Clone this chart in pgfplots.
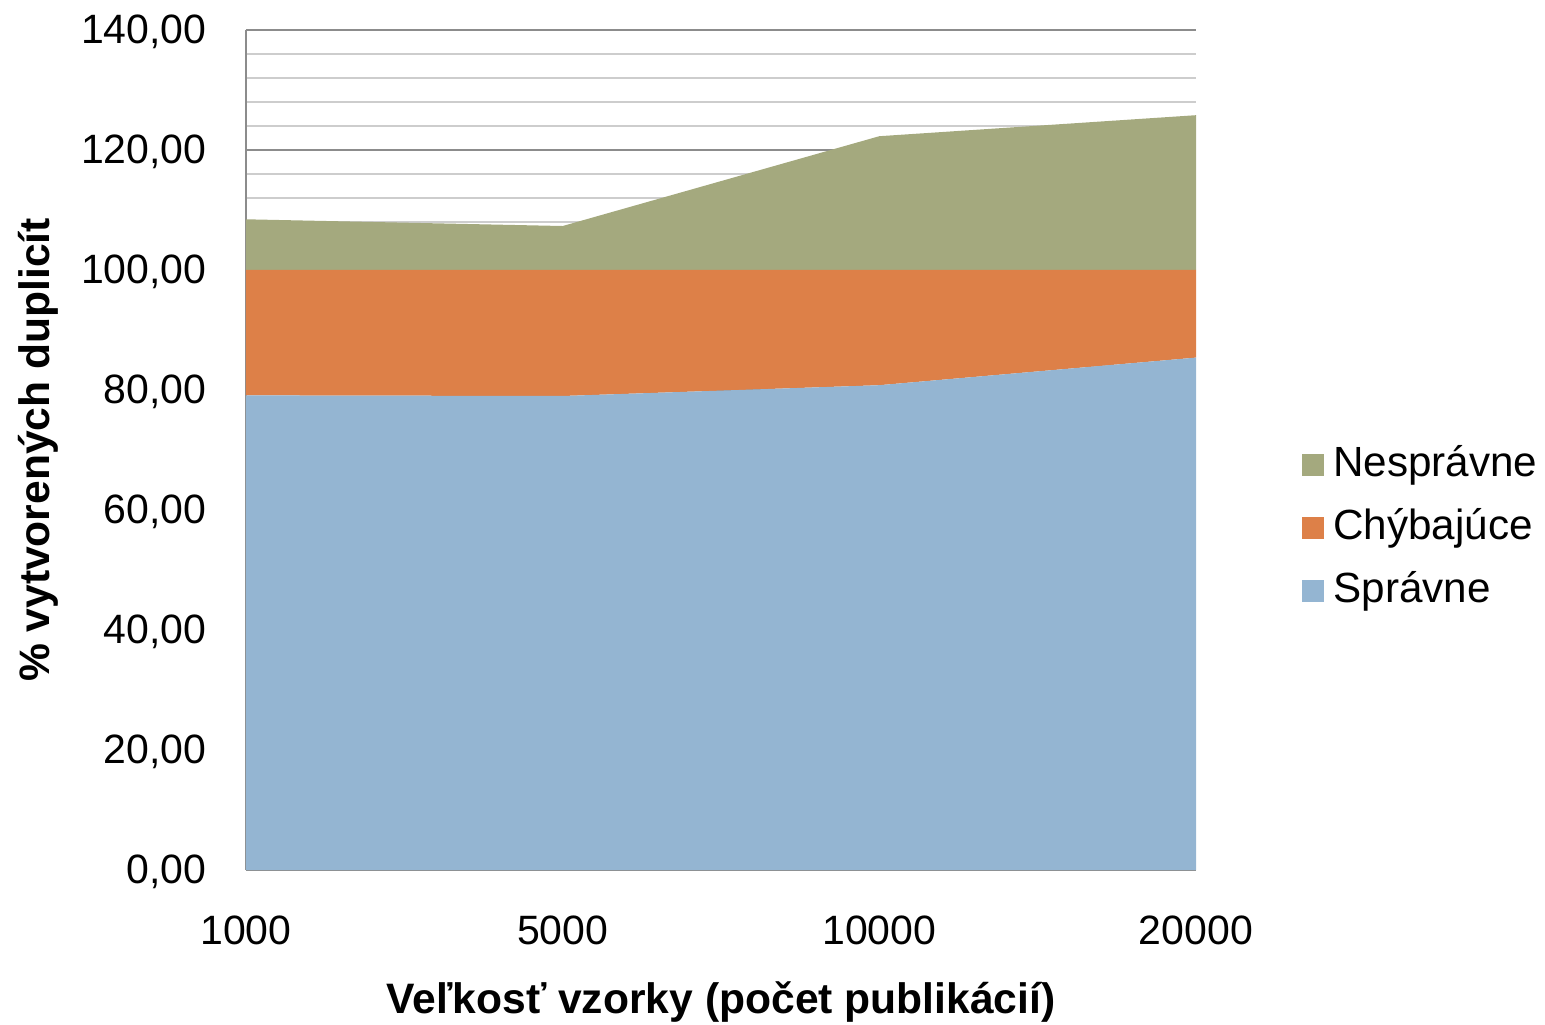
\documentclass[border=0pt]{standalone}
\usepackage{fontspec}
\setmainfont{Liberation Sans}
\usepackage{pgfplots}
\pgfplotsset{compat=1.18}
\definecolor{cgreen}{RGB}{164,169,126}
\definecolor{corange}{RGB}{221,128,72}
\definecolor{cblue}{RGB}{148,181,210}
\definecolor{gmajor}{RGB}{140,140,140}
\definecolor{gminor}{RGB}{205,205,205}
\begin{document}
\begin{tikzpicture}
\begin{axis}[
  scale only axis,
  width=475bp, height=420bp,
  xmin=0, xmax=3, ymin=0, ymax=140,
  xtick={0,1,2,3}, xticklabels={1000,5000,10000,20000},
  ytick={0,20,...,140},
  minor y tick num=4,
  ymajorgrids, yminorgrids,
  major grid style={draw=gmajor, line width=1bp},
  minor grid style={draw=gminor, line width=1bp},
  major tick length=0pt, minor tick length=0pt,
  axis x line=bottom, axis y line=left,
  axis line style={draw=gmajor, line width=1.3bp, -},
  stack plots=y,
  font=\fontsize{20.5bp}{24bp}\selectfont,
  /pgf/number format/.cd, fixed, fixed zerofill, precision=2, use comma, assume math mode=true,
  /pgfplots/.cd,
  yticklabel style={inner sep=0pt, anchor=east, xshift=-19.5bp, yshift=-1bp},
  xticklabel style={inner sep=0pt, anchor=north, yshift=-22.5bp},
  ylabel={\fontsize{21.3bp}{24bp}\selectfont\bfseries \% vytvorených duplicít},
  ylabel style={at={(axis description cs:-0.219,0.5)}, anchor=center, rotate=0},
  xlabel={\fontsize{21.3bp}{24bp}\selectfont\bfseries Veľkosť vzorky (počet publikácií)},
  xlabel style={at={(axis description cs:0.5,-0.157)}, anchor=center},
  legend style={at={(rel axis cs:1.1116,0.4071)}, anchor=west, draw=none, fill=none,
    inner sep=0pt, row sep=12.5bp, column sep=4.5bp,
    nodes={inner sep=0pt, text height=15bp, text depth=4bp, anchor=west},
    font=\fontsize{21.1bp}{24bp}\selectfont},
  legend cell align=left,
  reverse legend,
  legend image code/.code={\fill[#1] (0bp,-5.5bp) rectangle (11bp,5.5bp);},
]
\addplot[fill=cblue, draw=none] coordinates {(0,79.1) (1,79.0) (2,80.8) (3,85.4)} \closedcycle;
\addlegendentry{Správne}
\addplot[fill=corange, draw=none] coordinates {(0,20.9) (1,21.0) (2,19.2) (3,14.6)} \closedcycle;
\addlegendentry{Chýbajúce}
\addplot[fill=cgreen, draw=none] coordinates {(0,8.45) (1,7.33) (2,22.3) (3,25.8)} \closedcycle;
\addlegendentry{Nesprávne}
\end{axis}
\pgfresetboundingbox
\path ([shift={(-123bp,-77.5bp)}]current axis.south west) rectangle ([shift={(174.5bp,15bp)}]current axis.north east);
\end{tikzpicture}
\end{document}
